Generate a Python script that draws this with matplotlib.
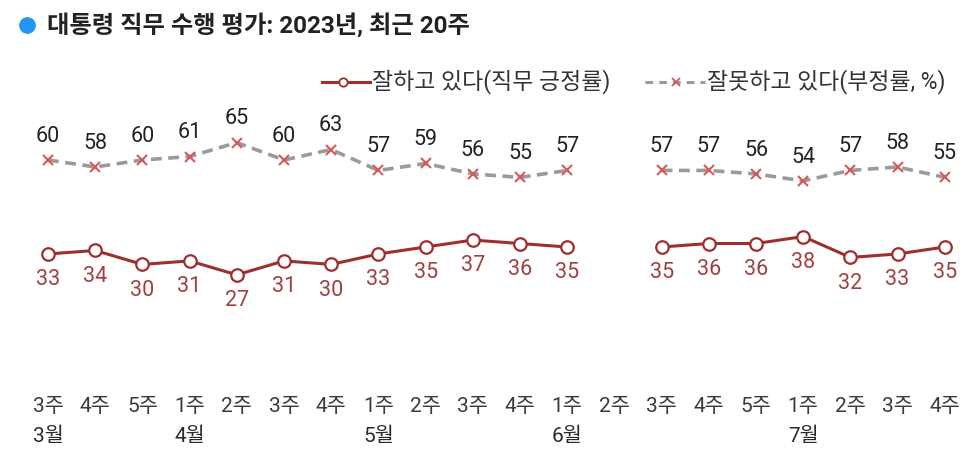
import numpy as np
import matplotlib
matplotlib.use("Agg")
import matplotlib.pyplot as plt
from matplotlib.lines import Line2D

plt.rcParams['font.family'] = ['Roboto', 'Noto Sans CJK KR', 'DejaVu Sans']

weeks = ["3주", "4주", "5주", "1주", "2주", "3주", "4주", "1주", "2주", "3주", "4주", "1주",
         "2주", "3주", "4주", "5주", "1주", "2주", "3주", "4주"]
months = {0: "3월", 3: "4월", 7: "5월", 11: "6월", 16: "7월"}
positive = [33, 34, 30, 31, 27, 31, 30, 33, 35, 37, 36, 35, np.nan, 35, 36, 36, 38, 32, 33, 35]
negative = [60, 58, 60, 61, 65, 60, 63, 57, 59, 56, 55, 57, np.nan, 57, 57, 56, 54, 57, 58, 55]

W, H = 972, 476
fig = plt.figure(figsize=(W/100, H/100), dpi=100)
ax = fig.add_axes([24.4/W, (H-368.8)/H, 944/W, (368.8-107.8)/H])
ax.set_xlim(-0.5, 19.5)
ax.set_ylim(0, 75)
for s in ax.spines.values():
    s.set_visible(False)
ax.set_yticks([])

x = np.arange(len(weeks))
pos_col = '#9e2f2f'
neg_col = '#9a9a9a'
ax.plot(x, negative, color=neg_col, lw=2.6, ls=(0, (3.0, 1.8)), marker='x',
        ms=6.5, mec='#d65a5a', mew=1.5, zorder=2)
ax.plot(x, positive, color=pos_col, lw=2.2, marker='o', ms=9,
        mfc='white', mec=pos_col, mew=1.6, zorder=3)

for xi, v in zip(x, negative):
    if not np.isnan(v):
        ax.annotate(f"{int(v)}", (xi, v), xytext=(0, 17), textcoords='offset points',
                    ha='center', va='center', fontsize=15.5, color='#222222')
for xi, v in zip(x, positive):
    if not np.isnan(v):
        ax.annotate(f"{int(v)}", (xi, v), xytext=(0, -18.5), textcoords='offset points',
                    ha='center', va='center', fontsize=15.5, color='#a04040')

ax.set_xticks(x)
ax.set_xticklabels(weeks, fontsize=15, color='#3a3a3a')
ax.tick_params(axis='x', length=0, pad=20)
for i, m in months.items():
    ax.text(i, -0.26, m, transform=ax.get_xaxis_transform(), ha='center', va='center',
            fontsize=15, color='#2a2a2a')

# title
fig.add_artist(Line2D([27/W], [1-24.5/H], marker='o', ms=11, mfc='#2196f3', mec='#2196f3',
                      transform=fig.transFigure))
fig.text(47/W, 1-25/H, "대통령 직무 수행 평가: 2023년, 최근 20주", ha='left', va='center',
         fontsize=17.5, color='#222222', fontweight='bold')

# legend
ly = 1-82/H
fig.add_artist(Line2D([322/W, 370/W], [ly, ly], color=pos_col, lw=2.2,
                      transform=fig.transFigure))
fig.add_artist(Line2D([343/W], [ly], marker='o', ms=6, mfc='white', mec=pos_col, mew=1.3,
                      transform=fig.transFigure))
fig.text(372/W, ly, "잘하고 있다(직무 긍정률)", ha='left', va='center', fontsize=16.5, color='#333333')
fig.add_artist(Line2D([645/W, 705/W], [ly, ly], color=neg_col, lw=2.2, ls=(0, (2.5, 2)),
                      transform=fig.transFigure))
fig.add_artist(Line2D([676/W], [ly], marker='x', ms=5.5, mec='#d65a5a', mew=1.3,
                      transform=fig.transFigure))
fig.text(707/W, ly, "잘못하고 있다(부정률, %)", ha='left', va='center', fontsize=16.5, color='#333333')

fig.savefig("out.png", dpi=100)
